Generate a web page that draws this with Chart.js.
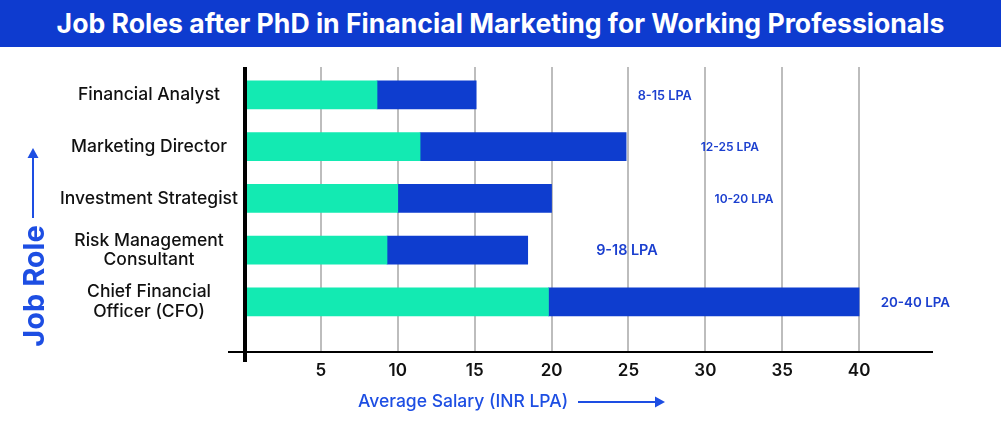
<!DOCTYPE html>
<html><head><meta charset="utf-8">
<script src="https://cdn.jsdelivr.net/npm/chart.js@4"></script>
<style>
html,body{margin:0;padding:0;background:#fff;}
canvas{display:block}
#title{width:1001px;height:47px;background:#0e3bcf;color:#fff;font:700 26.6px Inter,'Open Sans',sans-serif;text-align:center;line-height:46px;white-space:nowrap;overflow:hidden}
</style>
</head><body>
<div id="title"></div>
<canvas id="c" width="1001" height="377"></canvas>
<script>
const chartTitle = 'Job Roles after PhD in Financial Marketing for Working Professionals';
const categories = ['Financial Analyst', 'Marketing Director', 'Investment Strategist', ['Risk Management', 'Consultant'], ['Chief Financial', 'Officer (CFO)']];
const lowerSegment = [8.65, 11.45, 10, 9.3, 19.8];
const upperSegment = [15.1, 24.85, 20, 18.45, 40];
const rangeLabels = ['8-15 LPA', '12-25 LPA', '10-20 LPA', '9-18 LPA', '20-40 LPA'];
const xTicks = [5, 10, 15, 20, 25, 30, 35, 40];
const xTitle = 'Average Salary (INR LPA)';
const yTitle = 'Job Role';

document.getElementById('title').textContent = chartTitle;

const FONT = "Inter, 'Open Sans', sans-serif";
Chart.defaults.font.family = FONT;

const decor = {
  id: 'decor',
  afterDatasetsDraw(chart, args, opts) {
    const {ctx: c, chartArea: a, scales: {x, y}} = chart;
    c.save();
    // axis lines
    c.fillStyle = '#000';
    c.fillRect(a.left - 1, a.top, 4, a.bottom - a.top + 10);
    c.fillRect(a.left - 16, a.bottom - 1, a.right - a.left + 13, 2);
    // range annotations
    c.fillStyle = '#1b3fcf';
    c.textAlign = 'left';
    c.textBaseline = 'middle';
    rangeLabels.forEach((t, i) => {
      c.font = '600 ' + opts.sizes[i] + 'px ' + FONT;
      c.fillText(t, x.getPixelForValue(opts.anchors[i]), y.getPixelForValue(i) + 1);
    });
    // y title with arrow
    const axisBlue = '#1d4ee3';
    c.fillStyle = axisBlue;
    c.strokeStyle = axisBlue;
    c.save();
    c.translate(34, 239);
    c.rotate(-Math.PI / 2);
    c.font = '700 29px ' + FONT;
    c.textAlign = 'center';
    c.fillText(yTitle, 0, 1);
    c.restore();
    c.lineWidth = 2;
    c.beginPath(); c.moveTo(33, 171); c.lineTo(33, 109); c.stroke();
    c.beginPath(); c.moveTo(33, 101); c.lineTo(27.5, 111); c.lineTo(38.5, 111); c.closePath(); c.fill();
    // x title with arrow
    c.font = '500 17.5px ' + FONT;
    c.textAlign = 'left';
    c.fillText(xTitle, 358, 355);
    c.beginPath(); c.moveTo(578, 355); c.lineTo(657, 355); c.stroke();
    c.beginPath(); c.moveTo(665, 355); c.lineTo(655, 349.5); c.lineTo(655, 360.5); c.closePath(); c.fill();
    c.restore();
  }
};

new Chart(document.getElementById('c'), {
  type: 'bar',
  data: {
    datasets: [
      {label: 'Lower', data: categories.map((c, i) => ({x: [0, lowerSegment[i]], y: i})), backgroundColor: '#13eab2', grouped: false, barThickness: 28},
      {label: 'Upper', data: categories.map((c, i) => ({x: [lowerSegment[i], upperSegment[i]], y: i})), backgroundColor: '#0e3dcf', grouped: false, barThickness: 28}
    ]
  },
  options: {
    responsive: false,
    animation: false,
    indexAxis: 'y',
    layout: {padding: {left: 0, right: 65, top: 20, bottom: 0}},
    plugins: {
      legend: {display: false},
      tooltip: {enabled: false},
      title: {display: false},
      decor: {anchors: [25.6, 29.7, 30.6, 22.9, 41.4], sizes: [12.7, 12, 12, 14.4, 13.4]}
    },
    scales: {
      x: {
        type: 'linear', min: 0, max: 45,
        afterBuildTicks: s => { s.ticks = xTicks.map(v => ({value: v})); },
        grid: {color: '#bdbdbd', lineWidth: 2, drawTicks: false},
        border: {display: false},
        ticks: {padding: 9, color: '#111', font: {size: 17, weight: '600'}},
        afterFit: s => { s.height = 72; s.paddingLeft = 0; s.paddingRight = 0; }
      },
      y: {
        type: 'linear', min: -0.54, max: 4.97, reverse: true, offset: false,
        afterBuildTicks: s => { s.ticks = categories.map((_, i) => ({value: i})); },
        grid: {display: false, drawTicks: false, offset: false},
        border: {display: false},
        ticks: {callback: v => categories[v], color: '#111', font: {size: 17.5, weight: '500', lineHeight: 1.1}, crossAlign: 'center', padding: 6},
        afterFit: s => { s.width = 244; s.paddingTop = 0; s.paddingBottom = 0; }
      }
    }
  },
  plugins: [decor]
});
</script>
</body></html>
